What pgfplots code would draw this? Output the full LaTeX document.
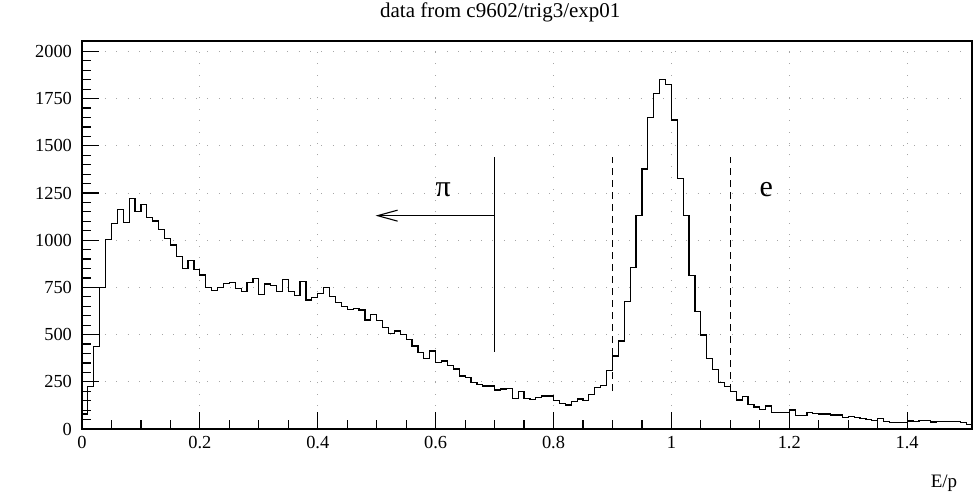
\documentclass[border=0pt]{standalone}
\usepackage{fontspec}
\setmainfont{Liberation Serif}
\usepackage{pgfplots}
\pgfplotsset{compat=1.18}
\usetikzlibrary{arrows.meta}
\pgfplotstableread{
x y
0.00 80
0.01 224
0.02 436
0.03 748
0.04 1005
0.05 1090
0.06 1164
0.07 1093
0.08 1222
0.09 1151
0.10 1187
0.11 1119
0.12 1102
0.13 1058
0.14 1010
0.15 975
0.16 913
0.17 851
0.18 892
0.19 846
0.20 816
0.21 750
0.22 733
0.23 750
0.24 770
0.25 775
0.26 745
0.27 728
0.28 775
0.29 798
0.30 713
0.31 768
0.32 758
0.33 728
0.34 793
0.35 728
0.36 706
0.37 781
0.38 683
0.39 696
0.40 717
0.41 750
0.42 701
0.43 669
0.44 648
0.45 634
0.46 639
0.47 630
0.48 577
0.49 605
0.50 574
0.51 539
0.52 507
0.53 519
0.54 502
0.55 472
0.56 440
0.57 404
0.58 374
0.59 413
0.60 351
0.61 360
0.62 336
0.63 318
0.64 281
0.65 274
0.66 245
0.67 237
0.68 228
0.69 228
0.70 207
0.71 212
0.72 214
0.73 162
0.74 198
0.75 162
0.76 157
0.77 168
0.78 175
0.79 175
0.80 150
0.81 136
0.82 127
0.83 145
0.84 159
0.85 150
0.86 184
0.87 221
0.88 230
0.89 309
0.90 387
0.91 466
0.92 674
0.93 857
0.94 1130
0.95 1377
0.96 1649
0.97 1778
0.98 1853
0.99 1823
1.00 1637
1.01 1325
1.02 1130
1.03 811
1.04 622
1.05 498
1.06 374
1.07 316
1.08 247
1.09 225
1.10 200
1.11 154
1.12 173
1.13 130
1.14 117
1.15 104
1.16 122
1.17 87
1.18 87
1.19 87
1.20 101
1.21 70
1.22 70
1.23 87
1.24 83
1.25 80
1.26 80
1.27 74
1.28 74
1.29 62
1.30 67
1.31 60
1.32 55
1.33 50
1.34 44
1.35 57
1.36 39
1.37 35
1.38 35
1.39 36
1.40 42
1.41 40
1.42 43
1.43 46
1.44 37
1.45 38
1.46 38
1.47 38
1.48 40
1.49 34
1.50 22
1.51 22
}\histdata
\begin{document}
\begin{tikzpicture}
\path[use as bounding box] (-41pt,-35.5pt) rectangle (446pt,214.5pt);
\begin{axis}[
  at={(0,0)}, anchor=south west,
  scale only axis, width=445pt, height=194pt,
  xmin=0, xmax=1.51, ymin=0, ymax=2055,
  xtick={0,0.2,0.4,0.6,0.8,1,1.2,1.4},
  ytick={0,250,500,750,1000,1250,1500,1750,2000},
  minor x tick num=3, minor y tick num=4,
  tick pos=left, tick align=inside,
  major tick length=8.5pt, minor tick length=4.4pt,
  grid=major,
  grid style={gray!70, line width=0.45pt, dash pattern=on 0.5pt off 5.2pt},
  axis line style={line width=0.75pt},
  every tick/.style={black, line width=0.6pt},
  tick label style={font=\fontsize{9.2}{10}\selectfont},
  /pgf/number format/assume math mode=true,
  /pgf/number format/1000 sep={},
  scaled ticks=false,
  yticklabel style={xshift=-1.5pt},
  clip=false,
]
\addplot[const plot, black, line width=0.6pt] table[x=x,y=y] {\histdata};
\addplot[black, line width=0.55pt, dash pattern=on 3.5pt off 2.5pt] coordinates {(0.9,200) (0.9,1440)};
\addplot[black, line width=0.55pt, dash pattern=on 3.5pt off 2.5pt] coordinates {(1.1,200) (1.1,1440)};
\addplot[black, line width=0.55pt] coordinates {(0.7,410) (0.7,1440)};
\addplot[black, line width=0.55pt, -{Straight Barb[length=10pt,width=5.5pt]}] coordinates {(0.7,1130) (0.498,1130)};
\node[anchor=base, font=\fontsize{15}{15}\selectfont] at (axis cs:0.613,1229) {π};
\node[anchor=base, font=\fontsize{15}{15}\selectfont] at (axis cs:1.161,1229) {e};
\node[anchor=center, font=\fontsize{10.5}{12}\selectfont] at (rel axis cs:0.47,1) [yshift=14.5pt] {data from c9602/trig3/exp01};
\node[anchor=center, font=\fontsize{9.5}{11}\selectfont] at (rel axis cs:0.9685,0) [yshift=-27pt] {E/p};
\end{axis}
\end{tikzpicture}
\end{document}
